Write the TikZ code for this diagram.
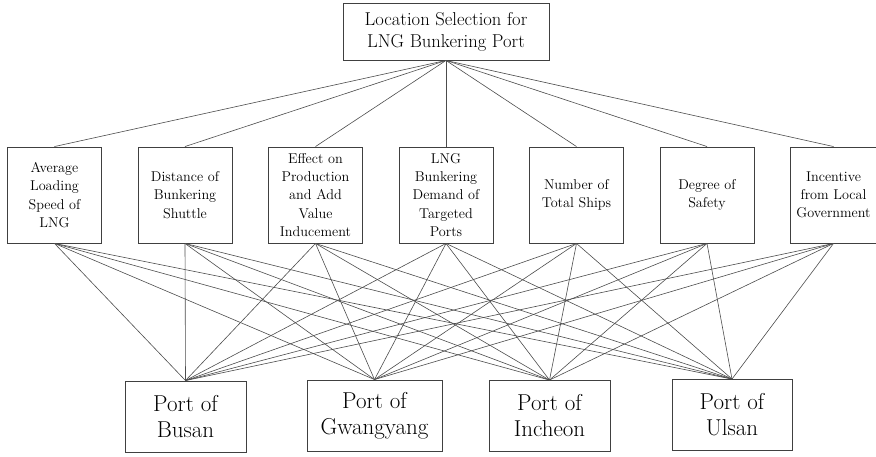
\documentclass[tikz,border=0pt]{standalone}
\usepackage{fontspec}
\usetikzlibrary{positioning}

\begin{document}
\begin{tikzpicture}[
    x=1pt, y=1pt,
    goal/.style={rectangle, draw=black!75, line width=0.9pt, minimum width=206pt, minimum height=57pt, align=center, font=\fontsize{18.6}{22}\selectfont},
    factor/.style={rectangle, draw=black!75, line width=0.9pt, minimum width=94pt, minimum height=96pt, inner sep=2pt, align=center, font=\fontsize{14.2}{18.3}\selectfont},
    port/.style={rectangle, draw=black!75, line width=0.9pt, minimum width=121pt, minimum height=71pt, align=center, font=\fontsize{23}{26}\selectfont},
    link/.style={draw=black!70, line width=0.6pt}
]
\useasboundingbox (0,0) rectangle (876,456);

% Nodes
\node[goal] (goal) at (446,424.5) {Location Selection for\\LNG Bunkering Port};

\node[factor] (f1) at (54.5,261) {Average\\Loading\\Speed of\\LNG};
\node[factor, right=35.6pt of f1] (f2) {Distance of\\Bunkering\\Shuttle};
\node[factor, right=35.6pt of f2] (f3) {Effect on\\Production\\and Add\\Value\\Inducement};
\node[factor, right=35.6pt of f3] (f4) {LNG\\Bunkering\\Demand of\\Targeted\\Ports};
\node[factor, right=35.6pt of f4] (f5) {Number of\\Total Ships};
\node[factor, right=35.6pt of f5] (f6) {Degree of\\Safety};
\node[factor, right=35.6pt of f6, minimum width=86pt, inner xsep=0.5pt] (f7) {Incentive\\from Local\\Government};

\node[port] (busan) at (185.5,39.5) {Port of\\Busan};
\node[port, minimum width=135pt] (gwangyang) at (374.5,40.5) {Port of\\Gwangyang};
\node[port] (incheon) at (549.5,40) {Port of\\Incheon};
\node[port, minimum width=120pt] (ulsan) at (732,41) {Port of\\Ulsan};

% Connections
\foreach \i in {1,...,7}
    \draw[link] (goal.south) -- (f\i.north);
\foreach \i in {1,...,7}
    \foreach \p in {busan,gwangyang,incheon,ulsan}
        \draw[link] (f\i.south) -- (\p.north);

\end{tikzpicture}
\end{document}
